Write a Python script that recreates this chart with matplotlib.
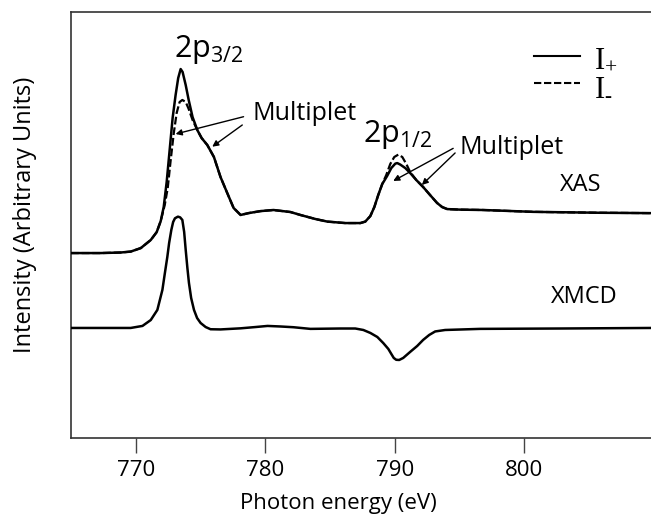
import matplotlib
matplotlib.use("Agg")
import matplotlib.pyplot as plt

plt.rcParams['font.family'] = ['Open Sans', 'DejaVu Sans']
plt.rcParams['mathtext.default'] = 'regular'

# ---- data (photon energy in eV, intensity in arbitrary units) ----
xas_plus_e = [765.0, 767.30, 768.84, 769.61, 770.39, 771.16, 771.62, 771.93, 772.16, 772.39,
              772.62, 772.85, 773.08, 773.28, 773.47, 773.62, 773.86, 774.09, 774.39, 774.76,
              775.09, 775.53, 776.04, 776.55, 777.07, 777.56, 778.10, 778.71, 779.64, 780.64,
              781.95, 782.72, 783.88, 784.80, 786.19, 787.35, 787.73, 788.12, 788.43, 788.73,
              789.04, 789.41, 789.74, 790.05, 790.20, 790.43, 790.82, 791.20, 791.67, 792.20,
              792.74, 793.28, 793.67, 794.06, 795.06, 796.83, 800.69, 805.85, 809.80]
xas_plus_i = [0.0, 0.0, 0.003, 0.008, 0.027, 0.071, 0.114, 0.174, 0.25, 0.386,
              0.56, 0.734, 0.859, 0.951, 1.0, 0.984, 0.913, 0.832, 0.739, 0.668,
              0.625, 0.587, 0.522, 0.413, 0.326, 0.245, 0.207, 0.217, 0.228, 0.234,
              0.223, 0.207, 0.185, 0.171, 0.163, 0.163, 0.171, 0.201, 0.25, 0.315,
              0.375, 0.418, 0.462, 0.486, 0.489, 0.481, 0.462, 0.435, 0.397, 0.359,
              0.315, 0.272, 0.25, 0.239, 0.236, 0.234, 0.224, 0.219, 0.217]

xas_minus_e = [765.0, 767.30, 768.84, 769.61, 770.39, 771.16, 771.62, 771.93, 772.24, 772.47,
               772.70, 772.93, 773.16, 773.39, 773.60, 773.86, 774.09, 774.39, 774.76,
               775.09, 775.53, 776.04, 776.55, 777.07, 777.56, 778.10, 778.71, 779.64, 780.64,
               781.95, 782.72, 783.88, 784.80, 786.19, 787.35, 787.73, 788.12, 788.43, 788.73,
               789.04, 789.35, 789.66, 789.97, 790.28, 790.59, 790.90, 791.20, 791.67, 792.20,
               792.74, 793.28, 793.67, 794.06, 795.06, 796.83, 800.69, 805.85, 809.80]
xas_minus_i = [0.0, 0.0, 0.003, 0.008, 0.027, 0.071, 0.114, 0.174, 0.261, 0.353,
               0.505, 0.647, 0.761, 0.821, 0.832, 0.821, 0.783, 0.723, 0.668,
               0.625, 0.587, 0.522, 0.413, 0.326, 0.245, 0.207, 0.217, 0.228, 0.234,
               0.223, 0.207, 0.185, 0.171, 0.163, 0.163, 0.171, 0.201, 0.25, 0.315,
               0.375, 0.424, 0.484, 0.522, 0.535, 0.522, 0.484, 0.44, 0.397, 0.359,
               0.315, 0.272, 0.25, 0.239, 0.236, 0.234, 0.224, 0.219, 0.217]

xmcd_e = [765.0, 769.61, 770.52, 771.16, 771.67, 772.06, 772.24, 772.44, 772.58, 772.75,
          772.89, 773.03, 773.26, 773.43, 773.60, 773.74, 773.86, 773.99, 774.11, 774.28,
          774.50, 774.74, 775.01, 775.40, 775.78, 776.55, 778.10, 779.25, 780.18, 781.18,
          782.18, 783.49, 785.81, 786.96, 787.58, 788.12, 788.66, 789.12, 789.51, 789.74,
          789.93, 790.12, 790.35, 790.66, 791.20, 791.74, 792.20, 792.67, 793.13, 793.90,
          796.60, 802.77, 809.80]
xmcd_i = [0.0, 0.0, 0.011, 0.043, 0.098, 0.207, 0.293, 0.386, 0.462, 0.533,
          0.576, 0.596, 0.605, 0.601, 0.587, 0.522, 0.424, 0.326, 0.245, 0.163,
          0.098, 0.054, 0.027, 0.005, -0.007, -0.008, -0.002, 0.005, 0.011, 0.008,
          0.004, -0.005, -0.003, -0.003, -0.011, -0.027, -0.049, -0.082, -0.114, -0.141,
          -0.163, -0.173, -0.174, -0.163, -0.130, -0.098, -0.065, -0.038, -0.019, -0.011,
          -0.005, -0.003, 0.0]

xticks = [770, 780, 790, 800]

# ---- layout / style ----
XAS_OFFSET = 1.005
XMCD_OFFSET = 0.598

fig = plt.figure(figsize=(6.51, 5.20), dpi=100)
ax = fig.add_axes([71/651, (520-438)/520, 1 - 71/651, (438-12)/520])

ax.plot(xas_minus_e, [v + XAS_OFFSET for v in xas_minus_i], color='black', lw=1.6,
        linestyle=(0, (3.5, 1.3)), label='I$_{\u2010}$', zorder=2)
ax.plot(xas_plus_e, [v + XAS_OFFSET for v in xas_plus_i], color='black', lw=1.8,
        label='I$_{+}$', zorder=3)
ax.plot(xmcd_e, [v + XMCD_OFFSET for v in xmcd_i], color='black', lw=1.8, zorder=3)

ax.set_xlim(765.0, 809.8)
ax.set_ylim(0, 2.315)
ax.set_xticks(xticks)
ax.set_yticks([])
ax.tick_params(axis='x', direction='out', length=11, width=1.0, color='#444444',
               labelsize=16, pad=5)
for s in ['left', 'bottom', 'top']:
    ax.spines[s].set_color('#333333')
    ax.spines[s].set_linewidth(1.2)
ax.spines['right'].set_visible(False)

# legend
h, l = ax.get_legend_handles_labels()
leg = ax.legend([h[1], h[0]], [l[1], l[0]], loc='upper left',
                bbox_to_anchor=((534 - 71) / 580, (438 - 45) / 426),
                borderpad=0, borderaxespad=0, frameon=False, handlelength=1.5,
                handletextpad=0.45, labelspacing=-0.06,
                prop={'family': ['Liberation Serif', 'DejaVu Serif'], 'size': 22})
for line in leg.get_lines():
    line.set_linewidth(1.5)

# peak labels
ax.text(775.63, 2.109, r'2p$_{3/2}$', fontsize=22, ha='center', va='center')
ax.text(790.20, 1.647, r'2p$_{1/2}$', fontsize=22, ha='center', va='center')
ax.text(783.03, 1.728, 'Multiplet', fontsize=18, ha='center', va='baseline')
ax.text(799.03, 1.542, 'Multiplet', fontsize=18, ha='center', va='baseline')

arrow = dict(arrowstyle='-|>', mutation_scale=9, lw=1.0, color='black', shrinkA=0, shrinkB=0)
ax.annotate('', xy=(773.08, 1.652), xytext=(778.33, 1.746), arrowprops=arrow)
ax.annotate('', xy=(775.91, 1.583), xytext=(778.23, 1.701), arrowprops=arrow)
ax.annotate('', xy=(789.89, 1.397), xytext=(794.52, 1.574), arrowprops=arrow)
ax.annotate('', xy=(792.10, 1.375), xytext=(794.67, 1.549), arrowprops=arrow)

ax.text(804.39, 1.375, 'XAS', fontsize=17, ha='center', va='center')
ax.text(804.62, 0.766, 'XMCD', fontsize=17, ha='center', va='center')

fig.text(338/651, 1 - 503/520, 'Photon energy (eV)', fontsize=16, ha='center', va='center')
fig.text(25/651, 1 - 215/520, 'Intensity (Arbitrary Units)', fontsize=17, ha='center',
         va='center', rotation=90)

fig.savefig('out.png', dpi=100)
